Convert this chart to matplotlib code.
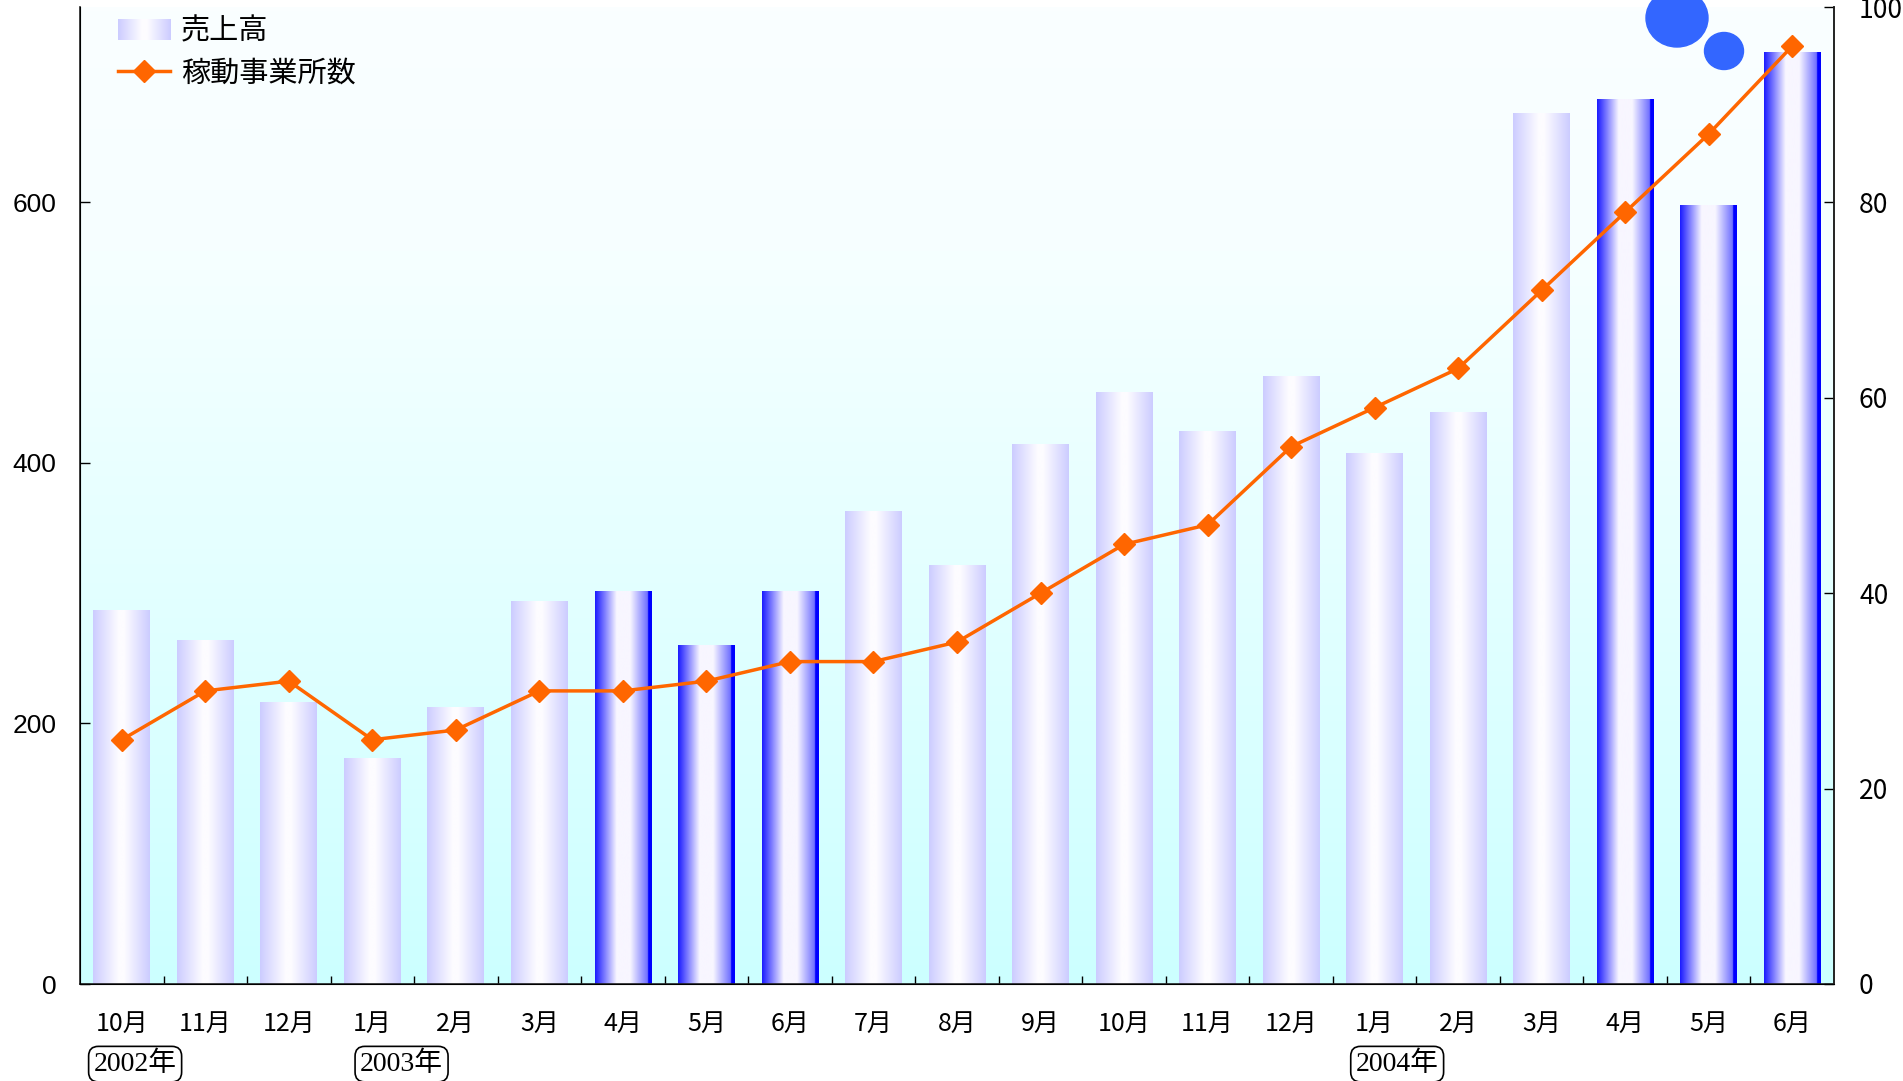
import numpy as np
import matplotlib
matplotlib.use('Agg')
import matplotlib.pyplot as plt
from matplotlib.colors import to_rgb
from matplotlib.patches import Ellipse, Rectangle
from matplotlib.lines import Line2D
from matplotlib.image import BboxImage
from matplotlib.transforms import Bbox, TransformedBbox, blended_transform_factory
from matplotlib.legend_handler import HandlerBase

plt.rcParams['font.family'] = ['Noto Sans CJK JP', 'DejaVu Sans']

# データ
months = ['10月', '11月', '12月', '1月', '2月', '3月', '4月', '5月', '6月', '7月', '8月',
          '9月', '10月', '11月', '12月', '1月', '2月', '3月', '4月', '5月', '6月']
sales = [287, 264, 216, 173, 212, 294, 301, 260, 301, 363, 321,
         414, 454, 424, 466, 407, 439, 668, 679, 598, 715]
offices = [25, 30, 31, 25, 26, 30, 30, 31, 33, 33, 35,
           40, 45, 47, 55, 59, 63, 71, 79, 87, 96]
highlight = [6, 7, 8, 18, 19, 20]
years = ['2002年', '2003年', '2004年']
year_pos = [0.16, 3.35, 15.27]


def gradient(stops, n=256):
    pos = [s[0] for s in stops]
    cols = np.array([to_rgb(s[1]) for s in stops])
    t = np.linspace(0, 1, n)
    return np.stack([np.interp(t, pos, cols[:, k]) for k in range(3)], axis=-1)


grad_normal = gradient([(0, '#ccccff'), (0.45, '#fdfcff'), (0.55, '#fdfcff'), (1, '#ccccff')])[None, :, :]
grad_hi = gradient([(0, '#1a1aff'), (0.38, '#f8f6ff'), (0.62, '#f8f6ff'), (0.93, '#6e6eff'),
                    (0.935, '#0000ff'), (1, '#0000ff')])[None, :, :]
grad_bg = gradient([(0, '#ccffff'), (0.75, '#f6ffff'), (1, '#fafeff')])[::-1][:, None, :]


class GradHandler(HandlerBase):
    def create_artists(self, legend, orig_handle, xdescent, ydescent, width, height, fontsize, trans):
        bb = Bbox.from_bounds(-xdescent, -ydescent, width, height)
        im = BboxImage(TransformedBbox(bb, trans), interpolation='bilinear')
        im.set_data(grad_normal)
        return [im]


fig = plt.figure(figsize=(19.03, 10.81), dpi=100)
ax = fig.add_axes([80 / 1903, 1 - 984 / 1081, (1834 - 80) / 1903, (984 - 7) / 1081])
x = np.arange(len(months))

ax.imshow(grad_bg, extent=(-0.5, len(months) - 0.5, 0, 750), aspect='auto', zorder=0)

bars = ax.bar(x, sales, width=0.68, color='none', linewidth=0, zorder=2)
for i, b in enumerate(bars):
    g = grad_hi if i in highlight else grad_normal
    ax.imshow(g, extent=(b.get_x(), b.get_x() + b.get_width(), 0, b.get_height()),
              aspect='auto', interpolation='bilinear', zorder=2)

ax.set_xlim(-0.5, len(months) - 0.5)
ax.set_ylim(0, 750)
ax.set_yticks([0, 200, 400, 600])
ax.tick_params(axis='y', direction='in', length=7, width=1, pad=17, labelsize=19)
for lab in ax.get_yticklabels():
    lab.set_family('Liberation Sans')
ax.set_xticks(x)
ax.set_xticklabels(months)
ax.set_xticks(x[:-1] + 0.5, minor=True)
ax.tick_params(axis='x', which='major', length=0, pad=19, labelsize=18)
ax.tick_params(axis='x', which='minor', direction='in', length=6, width=1)
ax.spines['top'].set_visible(False)
for s in ['left', 'bottom', 'right']:
    ax.spines[s].set_color('#222222')
    ax.spines[s].set_linewidth(1.2)

ax2 = ax.twinx()
ax2.plot(x, offices, color='#ff6600', lw=2.5, marker='D', ms=11, mec='#ff6600', zorder=3)
ax2.set_ylim(0, 100)
ax2.set_yticks([0, 20, 40, 60, 80, 100])
ax2.tick_params(axis='y', direction='in', length=7, width=1, pad=18, labelsize=19)
ax2.spines['top'].set_visible(False)
ax2.spines['right'].set_color('#222222')
ax2.spines['right'].set_linewidth(1.2)

tr = blended_transform_factory(ax.transData, ax.transAxes)
for yr, p in zip(years, year_pos):
    ax.text(p, -0.082, yr, transform=tr, ha='center', va='center', fontsize=20,
            family=['Liberation Serif', 'Noto Sans CJK JP'],
            bbox=dict(boxstyle='round,pad=0.18,rounding_size=0.35', fc='white', ec='black', lw=1.2))

h_bar = Rectangle((0, 0), 1, 1)
h_line = Line2D([], [], color='#ff6600', lw=2.5, marker='D', ms=11)
ax2.legend([h_bar, h_line], ['売上高', '稼動事業所数'], loc='upper left',
           bbox_to_anchor=(0.02, 0.993), frameon=False, fontsize=21, handlelength=1.8,
           handletextpad=0.35, labelspacing=0.4, borderaxespad=0, borderpad=0.1,
           handler_map={Rectangle: GradHandler()})

fig.add_artist(Ellipse((1677 / 1903, 1 - 18 / 1081), 62 / 1903, 58 / 1081,
                       transform=fig.transFigure, color='#3366ff', zorder=5))
fig.add_artist(Ellipse((1724 / 1903, 1 - 51 / 1081), 39 / 1903, 37 / 1081,
                       transform=fig.transFigure, color='#3366ff', zorder=5))

fig.savefig('out.png', dpi=100)
